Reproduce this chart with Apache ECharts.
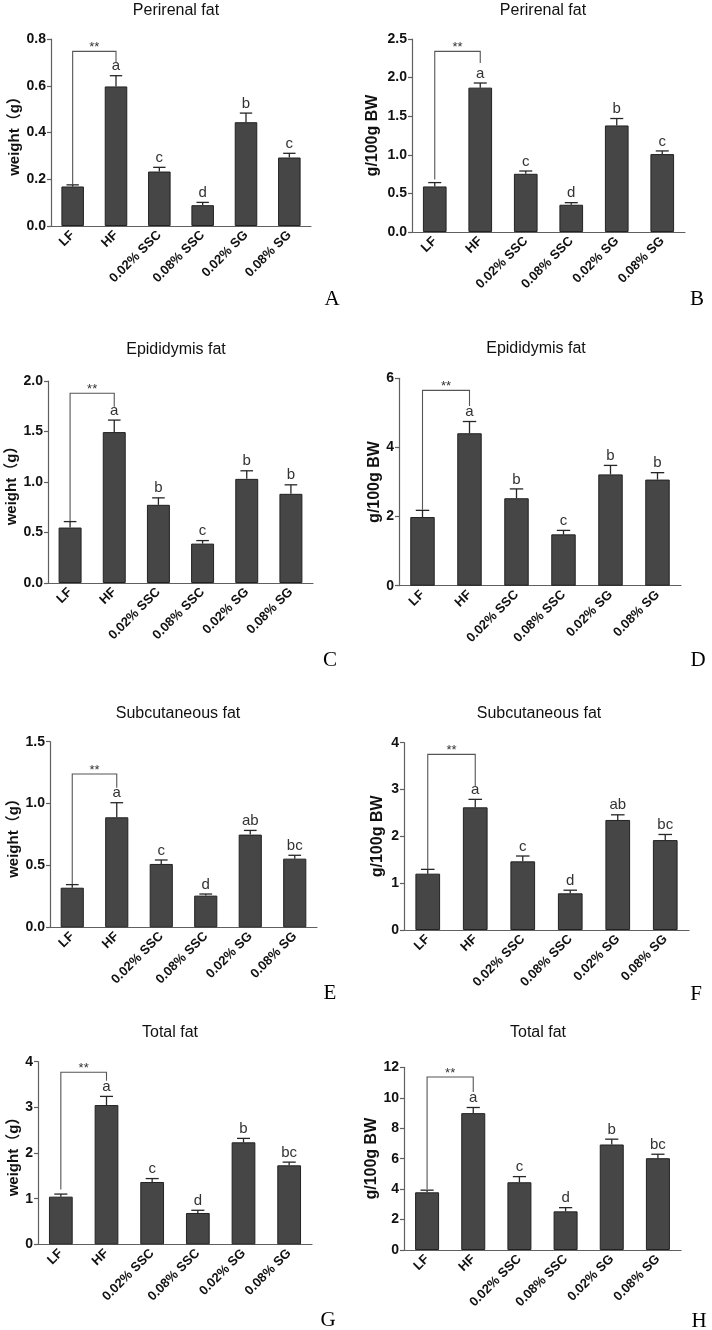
<!DOCTYPE html>
<html>
<head>
<meta charset="utf-8">
<script src="https://cdn.jsdelivr.net/npm/echarts@6/dist/echarts.min.js"></script>
<style>html,body{margin:0;padding:0;background:#fff}#c{width:712px;height:1330px}</style>
</head>
<body>
<div id="c"></div>
<script>
// ---------- data ----------
const categories = ['LF', 'HF', '0.02% SSC', '0.08% SSC', '0.02% SG', '0.08% SG'];

const perirenalWeight    = [0.169, 0.597, 0.233, 0.089, 0.444, 0.293];
const perirenalWeightErr = [0.176, 0.643, 0.251, 0.101, 0.483, 0.311];
const perirenalBW        = [0.59, 1.87, 0.754, 0.353, 1.38, 1.009];
const perirenalBWErr     = [0.64, 1.93, 0.79, 0.38, 1.47, 1.05];

const epididymisWeight    = [0.549, 1.494, 0.774, 0.39, 1.031, 0.883];
const epididymisWeightErr = [0.608, 1.613, 0.843, 0.42, 1.111, 0.972];
const epididymisBW        = [1.987, 4.41, 2.53, 1.485, 3.22, 3.07];
const epididymisBWErr     = [2.18, 4.75, 2.80, 1.60, 3.48, 3.27];

const subcutWeight    = [0.32, 0.889, 0.512, 0.256, 0.749, 0.555];
const subcutWeightErr = [0.345, 1.007, 0.544, 0.269, 0.783, 0.582];
const subcutBW        = [1.203, 2.62, 1.466, 0.783, 2.35, 1.92];
const subcutBWErr     = [1.295, 2.79, 1.58, 0.85, 2.46, 2.04];

const totalWeight    = [1.044, 3.05, 1.365, 0.686, 2.234, 1.73];
const totalWeightErr = [1.10, 3.24, 1.44, 0.745, 2.32, 1.80];
const totalBW        = [3.79, 8.99, 4.45, 2.54, 6.93, 6.03];
const totalBWErr     = [3.93, 9.36, 4.82, 2.78, 7.28, 6.29];

const lettersPerirenal  = ['', 'a', 'c', 'd', 'b', 'c'];
const lettersEpididymis = ['', 'a', 'b', 'c', 'b', 'b'];
const lettersSubcut     = ['', 'a', 'c', 'd', 'ab', 'bc'];
const lettersTotal      = ['', 'a', 'c', 'd', 'b', 'bc'];

const titles = ['Perirenal fat', 'Perirenal fat', 'Epididymis fat', 'Epididymis fat',
                'Subcutaneous fat', 'Subcutaneous fat', 'Total fat', 'Total fat'];
const yNames = ['weight（g）', 'g/100g BW', 'weight（g）', 'g/100g BW',
                'weight（g）', 'g/100g BW', 'weight（g）', 'g/100g BW'];
const panelLetters = ['A', 'B', 'C', 'D', 'E', 'F', 'G', 'H'];

const yMax      = [0.8, 2.5, 2.0, 6, 1.5, 4, 4, 12];
const yInterval = [0.2, 0.5, 0.5, 2, 0.5, 1, 1, 2];
const yDecimals = [1, 1, 1, 0, 1, 0, 0, 0];

// significance bracket LF vs HF: [top, left leg bottom, right leg bottom]
const bracketTop   = [0.747, 2.34, 1.878, 5.65, 1.239, 3.75, 3.77, 11.36];
const bracketLeft  = [0.18, 0.68, 0.615, 2.2, 0.35, 1.30, 1.20, 3.99];
const bracketRight = [0.70, 2.19, 1.745, 5.2, 1.128, 3.06, 3.58, 10.37];

const panelValues = [perirenalWeight, perirenalBW, epididymisWeight, epididymisBW,
                     subcutWeight, subcutBW, totalWeight, totalBW];
const panelErrors = [perirenalWeightErr, perirenalBWErr, epididymisWeightErr, epididymisBWErr,
                     subcutWeightErr, subcutBWErr, totalWeightErr, totalBWErr];
const panelLettersSig = [lettersPerirenal, lettersPerirenal, lettersEpididymis, lettersEpididymis,
                         lettersSubcut, lettersSubcut, lettersTotal, lettersTotal];

// ---------- layout ----------
const grids = [
  {left: 51,    top: 39,     width: 260, height: 187},
  {left: 412,   top: 39,     width: 273, height: 193},
  {left: 48,    top: 381,    width: 265, height: 202},
  {left: 399,   top: 378.3,  width: 282, height: 207.4},
  {left: 50,    top: 741.7,  width: 267, height: 185.6},
  {left: 404,   top: 742.7,  width: 285, height: 187.3},
  {left: 38,    top: 1061.7, width: 274, height: 182.6},
  {left: 404,   top: 1067.3, width: 277, height: 182.7}
];
const titlePos = [[176, 11], [543, 11], [176, 350], [536, 349], [178, 714], [539, 714], [170, 1033], [538, 1033]];
const letterPos = [[332, 299], [697, 299], [330, 660], [698, 660], [330, 993], [696, 994], [328, 1320], [699, 1321]];
const yNameGap = [28, 31, 25, 11, 25, 18, 15, 17];
const yNameSize = [15, 16, 15, 16, 15, 16, 15, 16];

const FONT = '"Liberation Sans", Arial, "Noto Sans CJK SC", sans-serif';
const AXIS_COLOR = '#606060';

const option = {
  animation: false,
  backgroundColor: '#fff',
  grid: grids.map(g => Object.assign({containLabel: false}, g)),
  xAxis: grids.map((g, i) => ({
    type: 'category', gridIndex: i, data: categories,
    axisLine: {lineStyle: {color: AXIS_COLOR, width: 1.2}},
    axisTick: {alignWithLabel: true, length: 4, lineStyle: {color: AXIS_COLOR, width: 1.2}},
    axisLabel: {rotate: 45, interval: 0, margin: 7, color: '#111', fontFamily: FONT, fontWeight: 'bold', fontSize: 13}
  })),
  yAxis: grids.map((g, i) => ({
    type: 'value', gridIndex: i, min: 0, max: yMax[i], interval: yInterval[i],
    name: yNames[i], nameLocation: 'middle', nameGap: yNameGap[i],
    nameTextStyle: {color: '#111', fontFamily: FONT, fontWeight: 'bold', fontSize: yNameSize[i]},
    splitLine: {show: false},
    axisLine: {show: true, lineStyle: {color: AXIS_COLOR, width: 1.2}},
    axisTick: {show: true, length: 4, lineStyle: {color: AXIS_COLOR, width: 1.2}},
    axisLabel: {margin: 5, color: '#111', fontFamily: FONT, fontWeight: 'bold', fontSize: 14,
      formatter: v => v.toFixed(yDecimals[i])}
  })),
  graphic: [],
  series: []
};

titlePos.forEach((p, i) => {
  option.graphic.push({type: 'text', x: p[0], y: p[1],
    style: {text: titles[i], align: 'center', verticalAlign: 'middle', fill: '#111',
      font: '16px ' + FONT}});
  option.graphic.push({type: 'text', x: letterPos[i][0], y: letterPos[i][1],
    style: {text: panelLetters[i], align: 'center', verticalAlign: 'middle', fill: '#000',
      font: '21px "Liberation Serif", "Times New Roman", serif'}});
});

panelValues.forEach((vals, i) => {
  option.series.push({
    type: 'bar', xAxisIndex: i, yAxisIndex: i, data: vals, barWidth: '52%',
    itemStyle: {color: '#464646', borderColor: '#222', borderWidth: 1}
  });
  const errs = panelErrors[i];
  const lets = panelLettersSig[i];
  option.series.push({
    type: 'custom', xAxisIndex: i, yAxisIndex: i, clip: false, z: 5,
    data: vals.map((v, k) => [k, v, errs[k]]),
    renderItem: (params, api) => {
      const k = api.value(0);
      const top = api.coord([k, api.value(1)]);
      const et = api.coord([k, api.value(2)]);
      const bw = api.size([1, 0])[0] * 0.52;
      const cap = bw * 0.55;
      const children = [
        {type: 'line', shape: {x1: top[0], y1: top[1], x2: et[0], y2: et[1]},
          style: {stroke: '#262626', lineWidth: 1.3}},
        {type: 'line', shape: {x1: et[0] - cap / 2, y1: et[1], x2: et[0] + cap / 2, y2: et[1]},
          style: {stroke: '#262626', lineWidth: 1.3}}
      ];
      if (lets[k]) {
        children.push({type: 'text', x: et[0], y: et[1] - 2,
          style: {text: lets[k], align: 'center', verticalAlign: 'bottom', fill: '#333',
            font: '15px ' + FONT}});
      }
      return {type: 'group', children: children};
    }
  });
  option.series.push({
    type: 'custom', xAxisIndex: i, yAxisIndex: i, clip: false, z: 5,
    data: [[0, bracketTop[i], bracketLeft[i], bracketRight[i]]],
    renderItem: (params, api) => {
      const a = api.coord([0, api.value(2)]);
      const b = api.coord([0, api.value(1)]);
      const c = api.coord([1, api.value(1)]);
      const d = api.coord([1, api.value(3)]);
      return {type: 'group', children: [
        {type: 'polyline', shape: {points: [a, b, c, d]},
          style: {stroke: '#555', lineWidth: 1.1, fill: null}},
        {type: 'text', x: (b[0] + c[0]) / 2, y: b[1] + 3,
          style: {text: '**', align: 'center', verticalAlign: 'bottom', fill: '#333',
            font: '13px ' + FONT}}
      ]};
    }
  });
});

const chart = echarts.init(document.getElementById('c'), null, {renderer: 'canvas'});
chart.setOption(option);
</script>
</body>
</html>
